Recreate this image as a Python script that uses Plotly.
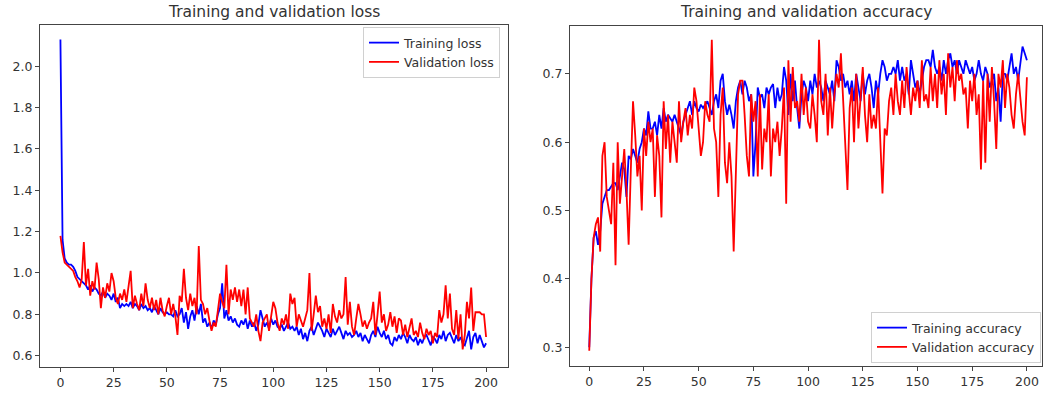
import plotly.graph_objects as go

epochs = list(range(0, 201))

train_loss = [
    2.13, 1.16, 1.07, 1.05, 1.04, 1.04, 1.03, 1.01, 0.98, 0.97,
    0.96, 0.95, 0.94, 0.92, 0.94, 0.91, 0.93, 0.92, 0.90, 0.89,
    0.91, 0.88, 0.90, 0.89, 0.87, 0.90, 0.86, 0.88, 0.83, 0.85,
    0.84, 0.85, 0.84, 0.86, 0.83, 0.85, 0.84, 0.82, 0.85, 0.83,
    0.84, 0.82, 0.83, 0.81, 0.84, 0.82, 0.80, 0.83, 0.81, 0.80,
    0.81, 0.80, 0.80, 0.79, 0.82, 0.79, 0.80, 0.83, 0.76, 0.81,
    0.73, 0.79, 0.82, 0.77, 0.84, 0.80, 0.85, 0.76, 0.78, 0.74,
    0.76, 0.73, 0.77, 0.75, 0.80, 0.83, 0.95, 0.78, 0.82, 0.77,
    0.79, 0.76, 0.78, 0.75, 0.74, 0.77, 0.75, 0.78, 0.73, 0.77,
    0.74, 0.76, 0.72, 0.75, 0.82, 0.78, 0.74, 0.76, 0.73, 0.78,
    0.75, 0.77, 0.74, 0.73, 0.75, 0.72, 0.74, 0.76, 0.73, 0.74,
    0.72, 0.74, 0.70, 0.73, 0.68, 0.71, 0.67, 0.72, 0.74, 0.70,
    0.73, 0.76, 0.74, 0.72, 0.69, 0.73, 0.71, 0.69, 0.73, 0.70,
    0.72, 0.74, 0.71, 0.68, 0.72, 0.70, 0.71, 0.69, 0.70, 0.72,
    0.69, 0.71, 0.67, 0.70, 0.68, 0.66, 0.70, 0.72, 0.69, 0.74,
    0.71, 0.69, 0.72, 0.68, 0.70, 0.66, 0.65, 0.69, 0.67, 0.70,
    0.68, 0.71, 0.69, 0.66, 0.70, 0.68, 0.67, 0.69, 0.65, 0.68,
    0.66, 0.69, 0.70, 0.67, 0.65, 0.69, 0.68, 0.66, 0.70, 0.68,
    0.72, 0.67, 0.70, 0.71, 0.68, 0.66, 0.70, 0.67, 0.69, 0.66,
    0.65, 0.68, 0.72, 0.63, 0.69, 0.71, 0.66, 0.70, 0.67, 0.64,
    0.66,
]

val_loss = [
    1.18, 1.10, 1.05, 1.04, 1.03, 1.02, 1.01, 0.98, 0.96, 0.93,
    0.97, 1.15, 0.94, 1.02, 0.89, 0.96, 0.92, 1.05, 0.97, 0.83,
    0.93, 0.88, 0.95, 0.91, 1.00, 0.96, 0.88, 0.85, 0.90, 0.87,
    0.92, 0.86, 0.94, 1.01, 0.83, 0.89, 0.85, 0.82, 0.90, 0.84,
    0.95, 0.87, 0.83, 0.88, 0.82, 0.87, 0.80, 0.88, 0.82, 0.79,
    0.84, 0.88, 0.80, 0.85, 0.79, 0.70, 0.89, 0.86, 1.02, 0.88,
    0.82, 0.90, 0.84, 0.88, 0.80, 1.13, 0.87, 0.85, 0.80, 0.83,
    0.77, 0.72, 0.76, 0.74, 0.82, 0.90, 0.86, 0.83, 1.04, 0.80,
    0.92, 0.87, 0.93, 0.86, 0.92, 0.84, 0.92, 0.80, 0.93, 0.78,
    0.76, 0.74, 0.80, 0.72, 0.67, 0.76, 0.78, 0.80, 0.72, 0.79,
    0.86, 0.83, 0.76, 0.72, 0.78, 0.75, 0.80, 0.73, 0.90, 0.85,
    0.88, 0.74, 0.80, 0.77, 0.74, 0.78, 0.82, 1.00, 0.72, 0.80,
    0.89, 0.81, 0.84, 0.74, 0.78, 0.73, 0.80, 0.71, 0.85, 0.79,
    0.76, 0.82, 0.78, 0.80, 0.98, 0.75, 0.86, 0.74, 0.70, 0.78,
    0.85, 0.80, 0.74, 0.77, 0.73, 0.76, 0.78, 0.86, 0.70, 0.80,
    0.91, 0.76, 0.80, 0.72, 0.75, 0.81, 0.74, 0.79, 0.71, 0.78,
    0.77, 0.70, 0.75, 0.69, 0.73, 0.78, 0.70, 0.72, 0.69, 0.76,
    0.71, 0.68, 0.73, 0.70, 0.72, 0.66, 0.71, 0.69, 0.82, 0.76,
    0.80, 0.94, 0.78, 0.90, 0.73, 0.70, 0.82, 0.68, 0.80, 0.63,
    0.70, 0.86, 0.78, 0.93, 0.72, 0.81, 0.81, 0.81, 0.80, 0.80,
    0.69,
]

train_acc = [
    0.30, 0.40, 0.46, 0.47, 0.45, 0.47, 0.51, 0.52, 0.53, 0.53,
    0.535, 0.54, 0.54, 0.53, 0.55, 0.57, 0.56, 0.52, 0.58, 0.575,
    0.59, 0.58, 0.57, 0.59, 0.60, 0.62, 0.61, 0.645, 0.62, 0.62,
    0.63, 0.61, 0.64, 0.62, 0.65, 0.63, 0.64, 0.635, 0.63, 0.64,
    0.63, 0.62, 0.61, 0.63, 0.64, 0.65, 0.66, 0.64, 0.66, 0.65,
    0.645, 0.655, 0.65, 0.655, 0.66, 0.65, 0.64, 0.66, 0.67, 0.65,
    0.69, 0.70, 0.66, 0.64, 0.655, 0.64, 0.62, 0.66, 0.68, 0.69,
    0.67, 0.69, 0.68, 0.66, 0.67, 0.55, 0.60, 0.68, 0.665, 0.67,
    0.65, 0.68, 0.67, 0.68, 0.685, 0.65, 0.68, 0.66, 0.67, 0.71,
    0.69, 0.64, 0.70, 0.66, 0.69, 0.65, 0.62, 0.67, 0.69, 0.68,
    0.66, 0.69, 0.67, 0.70, 0.68, 0.69, 0.68, 0.66, 0.69, 0.68,
    0.67, 0.69, 0.66, 0.72, 0.71, 0.69, 0.70, 0.68, 0.69, 0.67,
    0.69, 0.66, 0.70, 0.68, 0.66, 0.70, 0.67, 0.69, 0.70, 0.68,
    0.65, 0.69, 0.67, 0.70, 0.72, 0.71, 0.69, 0.70, 0.70, 0.71,
    0.70, 0.72, 0.69, 0.71, 0.69, 0.70, 0.67, 0.72, 0.70, 0.68,
    0.69, 0.67, 0.69, 0.71, 0.72, 0.72, 0.71, 0.735, 0.71, 0.70,
    0.71, 0.69, 0.72, 0.70, 0.72, 0.73, 0.71, 0.72, 0.70, 0.72,
    0.71, 0.70, 0.72, 0.71, 0.70, 0.71, 0.69, 0.70, 0.72, 0.70,
    0.69, 0.71, 0.70, 0.68, 0.69, 0.70, 0.66, 0.68, 0.63, 0.70,
    0.70, 0.69, 0.71, 0.73, 0.70, 0.71, 0.69, 0.72, 0.74, 0.73,
    0.72,
]

val_acc = [
    0.295, 0.40, 0.46, 0.48, 0.49, 0.44, 0.58, 0.60, 0.52, 0.50,
    0.48, 0.57, 0.42, 0.60, 0.51, 0.55, 0.59, 0.53, 0.45, 0.56,
    0.66, 0.61, 0.55, 0.58, 0.50, 0.62, 0.58, 0.63, 0.60, 0.62,
    0.52, 0.61, 0.58, 0.49, 0.66, 0.59, 0.64, 0.57, 0.63, 0.60,
    0.57, 0.66, 0.60, 0.63, 0.65, 0.61, 0.64, 0.62, 0.68, 0.66,
    0.62, 0.58, 0.60, 0.66, 0.64, 0.63, 0.75, 0.62, 0.60, 0.52,
    0.64, 0.68, 0.57, 0.54, 0.60, 0.55, 0.44, 0.56, 0.67, 0.69,
    0.69, 0.64, 0.58, 0.55, 0.67, 0.63, 0.66, 0.55, 0.67, 0.56,
    0.62, 0.60, 0.67, 0.55, 0.62, 0.60, 0.63, 0.58, 0.62, 0.68,
    0.51, 0.72, 0.63, 0.71, 0.65, 0.66, 0.63, 0.70, 0.64, 0.68,
    0.63, 0.62, 0.67, 0.64, 0.60, 0.75, 0.66, 0.64, 0.70, 0.61,
    0.68, 0.62, 0.67, 0.70, 0.68, 0.73, 0.66, 0.61, 0.53, 0.65,
    0.68, 0.60, 0.70, 0.62, 0.66, 0.71, 0.64, 0.60, 0.67, 0.62,
    0.64, 0.62, 0.68, 0.61, 0.525, 0.62, 0.61, 0.66, 0.68, 0.64,
    0.70, 0.66, 0.64, 0.69, 0.65, 0.71, 0.67, 0.64, 0.68, 0.66,
    0.69, 0.65, 0.72, 0.66, 0.67, 0.65, 0.71, 0.66, 0.70, 0.65,
    0.72, 0.67, 0.70, 0.64, 0.73, 0.68, 0.71, 0.66, 0.72, 0.69,
    0.70, 0.67, 0.68, 0.62, 0.69, 0.66, 0.70, 0.64, 0.67, 0.56,
    0.69, 0.57, 0.70, 0.63, 0.71, 0.66, 0.59, 0.70, 0.68, 0.72,
    0.65, 0.70, 0.68, 0.64, 0.62, 0.67, 0.70, 0.66, 0.63, 0.61,
    0.695,
]

x_ticks = [0, 25, 50, 75, 100, 125, 150, 175, 200]
loss_ticks = [0.6, 0.8, 1.0, 1.2, 1.4, 1.6, 1.8, 2.0]
acc_ticks = [0.3, 0.4, 0.5, 0.6, 0.7]

BLUE = "#0000ff"
RED = "#ff0000"
FONT = "DejaVu Sans"
TXT = "#333333"
W, H = 1047, 397

# plot area in window pixels
L, R, T, B = 40, 1042, 25, 367
PW, PH = R - L, B - T

def fx(p):
    return (p - L) / PW

def fy(p):
    return (B - p) / PH

fig = go.Figure()
fig.add_trace(go.Scatter(x=epochs, y=train_loss, mode="lines", name="Training loss",
                         line=dict(color=BLUE, width=1.8), xaxis="x", yaxis="y", legend="legend"))
fig.add_trace(go.Scatter(x=epochs, y=val_loss, mode="lines", name="Validation loss",
                         line=dict(color=RED, width=1.8), xaxis="x", yaxis="y", legend="legend"))
fig.add_trace(go.Scatter(x=epochs, y=train_acc, mode="lines", name="Training accuracy",
                         line=dict(color=BLUE, width=1.8), xaxis="x2", yaxis="y2", legend="legend2"))
fig.add_trace(go.Scatter(x=epochs, y=val_acc, mode="lines", name="Validation accuracy",
                         line=dict(color=RED, width=1.8), xaxis="x2", yaxis="y2", legend="legend2"))

axis_common = dict(showline=True, linecolor="#444444", linewidth=1, mirror=True,
                   ticks="outside", ticklen=4, tickcolor="#444444", tickwidth=1,
                   showgrid=False, zeroline=False, automargin=False,
                   tickfont=dict(family=FONT, size=12.5, color=TXT))

leg_common = dict(bgcolor="rgba(255,255,255,0.85)", bordercolor="#d0d0d0", borderwidth=1,
                  font=dict(family=FONT, size=12.5, color=TXT), itemwidth=30,
                  tracegroupgap=0)

fig.update_layout(
    width=W, height=H,
    margin=dict(l=L, r=W - R, t=T, b=H - B, autoexpand=False),
    paper_bgcolor="white", plot_bgcolor="white",
    font=dict(family=FONT, color=TXT),
    showlegend=True,
    xaxis=dict(domain=[fx(40), fx(508)], range=[-9.6, 210.3], tickvals=x_ticks,
               anchor="y", **axis_common),
    yaxis=dict(domain=[fy(367), fy(25)], range=[0.545, 2.2], tickvals=loss_ticks,
               tickformat=".1f", anchor="x", **axis_common),
    xaxis2=dict(domain=[fx(570), fx(1042)], range=[-8.8, 206.9], tickvals=x_ticks,
                anchor="y2", **axis_common),
    yaxis2=dict(domain=[fy(366), fy(26)], range=[0.2726, 0.770], tickvals=acc_ticks,
                tickformat=".1f", anchor="x2", **axis_common),
    legend=dict(x=fx(500), y=fy(27), xanchor="right", yanchor="top", **leg_common),
    legend2=dict(x=fx(1041), y=fy(363), xanchor="right", yanchor="bottom", **leg_common),
    annotations=[
        dict(text="Training and validation loss", x=(fx(40) + fx(508)) / 2, y=fy(12),
             xref="paper", yref="paper", xanchor="center", yanchor="middle", showarrow=False,
             font=dict(family=FONT, size=15.5, color=TXT)),
        dict(text="Training and validation accuracy", x=(fx(570) + fx(1042)) / 2, y=fy(12),
             xref="paper", yref="paper", xanchor="center", yanchor="middle", showarrow=False,
             font=dict(family=FONT, size=15.5, color=TXT)),
    ],
)

# remove the browser's default 8px page margin so the figure sits at the window origin
fig.write_html("out.html", config={"displayModeBar": False},
               post_script="document.body.style.margin='0px';")
